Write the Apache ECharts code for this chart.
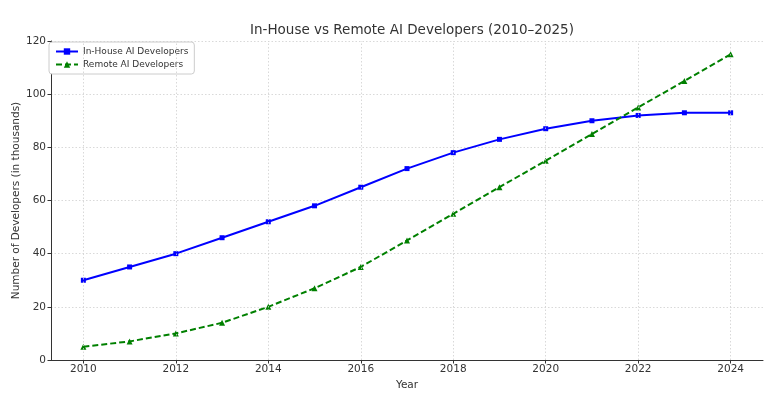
<!DOCTYPE html>
<html>
<head>
<meta charset="utf-8">
<script src="https://cdn.jsdelivr.net/npm/echarts@6/dist/echarts.min.js"></script>
<style>html,body{margin:0;padding:0;background:#fff}#c{width:768px;height:394px}</style>
</head>
<body>
<div id="c"></div>
<script>
var years = [2010,2011,2012,2013,2014,2015,2016,2017,2018,2019,2020,2021,2022,2023,2024];
var inHouse = [30,35,40,46,52,58,65,72,78,83,87,90,92,93,93];
var remote = [5,7,10,14,20,27,35,45,55,65,75,85,95,105,115];
var xTicks = [2010,2012,2014,2016,2018,2020,2022,2024];
var yTicks = [0,20,40,60,80,100,120];

var font = 'DejaVu Sans';
var chart = echarts.init(document.getElementById('c'), null, {renderer:'canvas'});
function pairs(xs, ys){ return xs.map(function(x,i){return [x, ys[i]];}); }
chart.setOption({
  animation:false,
  textStyle:{fontFamily:font},
  title:{text:'In-House vs Remote AI Developers (2010\u20132025)', left:407, top:18, textAlign:'center',
    textStyle:{fontFamily:font, fontSize:13.5, fontWeight:'normal', color:'#333'}},
  legend:{left:49, top:42, orient:'vertical', itemGap:4, itemWidth:22, itemHeight:8,
    padding:[5,6,5,6], borderColor:'#ccc', borderWidth:1, borderRadius:3, backgroundColor:'#fff',
    textStyle:{fontFamily:font, fontSize:9, color:'#333'},
    data:[{name:'In-House AI Developers'},{name:'Remote AI Developers'}]},
  grid:{left:51, right:5, top:41, bottom:34, containLabel:false, outerBoundsMode:'none'},
  xAxis:{type:'value', min:2009.3, max:2024.7, name:'Year', nameLocation:'middle', nameGap:20,
    nameMoveOverlap:false,
    nameTextStyle:{fontFamily:font, fontSize:10.5, color:'#333'},
    axisLine:{show:true, lineStyle:{color:'#333', width:1}},
    axisTick:{show:true, length:3.5, customValues:xTicks, lineStyle:{color:'#333'}},
    axisLabel:{customValues:xTicks, fontFamily:font, fontSize:10.5, color:'#333', margin:4, formatter:function(v){return String(v);}},
    splitLine:{show:false}},
  yAxis:{type:'value', min:0, max:120, interval:20, name:'Number of Developers (in thousands)',
    nameLocation:'middle', nameGap:29, nameMoveOverlap:false,
    nameTextStyle:{fontFamily:font, fontSize:10.5, color:'#333'},
    axisLine:{show:true, lineStyle:{color:'#333', width:1}},
    axisTick:{show:true, length:3.5, lineStyle:{color:'#333'}},
    axisLabel:{fontFamily:font, fontSize:10.5, color:'#333', margin:5},
    splitLine:{show:true, lineStyle:{color:'#cfcfcf', type:[1.5,2], width:0.8}}},
  series:[
    {name:'In-House AI Developers', type:'line', data:pairs(years,inHouse), symbol:'rect', symbolSize:5,
      itemStyle:{color:'#0000ff'}, lineStyle:{color:'#0000ff', width:2}, z:3,
      markLine:{silent:true, symbol:'none', label:{show:false}, animation:false,
        lineStyle:{color:'#cfcfcf', type:[1.5,2], width:0.8},
        data: xTicks.map(function(v){return {xAxis:v};})}},
    {name:'Remote AI Developers', type:'line', data:pairs(years,remote), symbol:'triangle', symbolSize:6,
      itemStyle:{color:'#008000'}, lineStyle:{color:'#008000', width:2, type:[6,3]}, z:4}
  ]
});
</script>
</body>
</html>
